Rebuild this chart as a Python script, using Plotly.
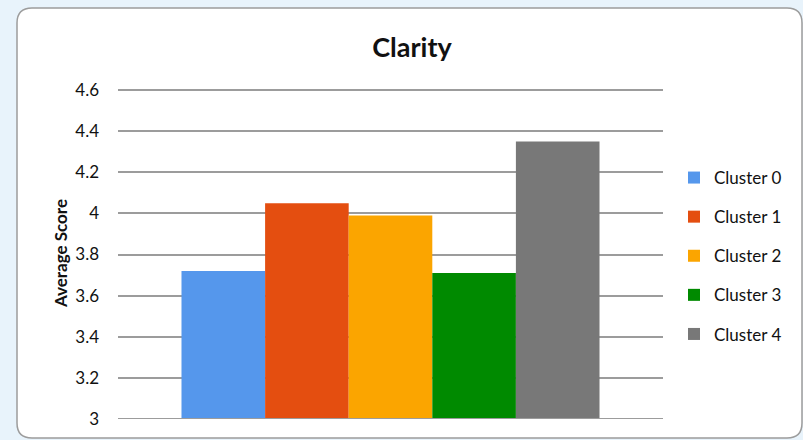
import plotly.graph_objects as go

# Average clarity score for each cluster
clusters = ["Cluster 0", "Cluster 1", "Cluster 2", "Cluster 3", "Cluster 4"]
scores = [3.72, 4.05, 3.99, 3.71, 4.35]
colors = ["#5597ec", "#e44e10", "#fba500", "#008a00", "#787878"]
y_ticks = [3, 3.2, 3.4, 3.6, 3.8, 4, 4.2, 4.4, 4.6]
category = "Clarity"

W, H = 803, 440
L, R, T, B = 118, 140, 88, 21          # margins around the plot area (px)
PW, PH = W - L - R, H - T - B
Y_RANGE = [3, 4.61]                    # small top pad so the 4.6 gridline shows
GRID = "#9c9c9c"


def px_x(x):
    return (x - L) / PW


def px_y(y):
    return (H - B - y) / PH


fig = go.Figure()
for i, (name, val, col) in enumerate(zip(clusters, scores, colors)):
    fig.add_trace(go.Bar(
        x=[category], y=[val], name=name, marker_color=col,
        marker_line_width=0, legendgroup=str(i),
    ))

# White rounded panel behind the chart
x0, x1, y0, y1, r = 17, 802, 8, 438, 15
path = (
    f"M {px_x(x0 + r)},{px_y(y0)} L {px_x(x1 - r)},{px_y(y0)} "
    f"Q {px_x(x1)},{px_y(y0)} {px_x(x1)},{px_y(y0 + r)} "
    f"L {px_x(x1)},{px_y(y1 - r)} Q {px_x(x1)},{px_y(y1)} {px_x(x1 - r)},{px_y(y1)} "
    f"L {px_x(x0 + r)},{px_y(y1)} Q {px_x(x0)},{px_y(y1)} {px_x(x0)},{px_y(y1 - r)} "
    f"L {px_x(x0)},{px_y(y0 + r)} Q {px_x(x0)},{px_y(y0)} {px_x(x0 + r)},{px_y(y0)} Z"
)
fig.add_shape(type="path", path=path, xref="paper", yref="paper",
              fillcolor="white", line=dict(color="#9c9c9c", width=1.5),
              layer="below")

# Baseline at the bottom of the value axis
fig.add_shape(type="line", xref="paper", yref="y", x0=0, x1=1,
              y0=Y_RANGE[0], y1=Y_RANGE[0], line=dict(color=GRID, width=2),
              layer="above")

fig.add_annotation(text="<b>Average Score</b>", textangle=-90,
                   x=px_x(60), y=px_y(254), xref="paper", yref="paper",
                   xanchor="center", yanchor="middle",
                   showarrow=False, font=dict(size=17, color="#111"))

fig.update_layout(
    width=W, height=H,
    margin=dict(l=L, r=R, t=T, b=B),
    paper_bgcolor="#e8f3fb",
    plot_bgcolor="rgba(0,0,0,0)",
    font=dict(family="Lato, 'Open Sans', sans-serif", color="#111"),
    title=dict(text="<b>Clarity</b>", x=412 / W, xanchor="center",
               y=1 - 48 / H, yanchor="middle", xref="container", yref="container",
               font=dict(size=27, color="#111")),
    barmode="group", bargap=0.233, bargroupgap=0,
    showlegend=True,
    legend=dict(x=px_x(674), y=px_y(160), xanchor="left", yanchor="top",
                font=dict(size=17), tracegroupgap=14, bgcolor="rgba(0,0,0,0)"),
    xaxis=dict(showticklabels=False, showgrid=False, zeroline=False, showline=False),
    yaxis=dict(range=Y_RANGE, tickvals=y_ticks, ticktext=[f"{v:g}" for v in y_ticks],
               showgrid=True, gridcolor=GRID, gridwidth=1.5,
               zeroline=False, showline=False, ticks="",
               ticklabelstandoff=18, tickfont=dict(size=17, color="#111")),
)

fig.write_html("out.html")
